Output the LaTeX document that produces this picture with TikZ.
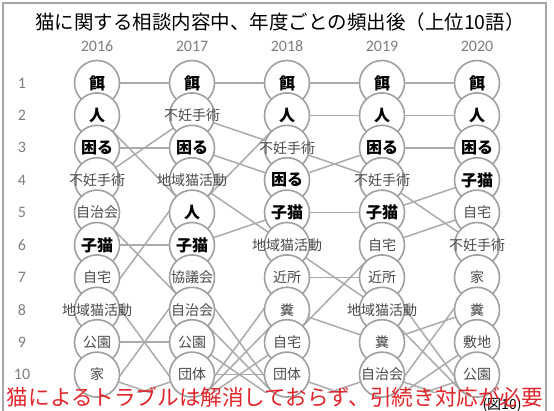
\documentclass[tikz,border=0pt]{standalone}
\usepackage{fontspec}
\setmainfont{Carlito}
\newfontfamily\jp{Noto Sans CJK JP}
\usetikzlibrary{backgrounds}
\definecolor{bubgray}{HTML}{A0A0A0}
\definecolor{linkgray}{HTML}{ABABAB}
\definecolor{framegray}{HTML}{A6A6A6}
\definecolor{numgray}{HTML}{7F7F7F}
\definecolor{txtgray}{HTML}{4A4A4A}
\definecolor{redc}{HTML}{E0262B}
\newcommand\mybub[5]{\node[bub] (#1) at (#2,{83+(#3-1)*32.4}) {};
  \node[#4] (#1t) at (#1.center) {#5};}
\begin{document}
\begin{tikzpicture}[x=1pt,y=-1pt,
  bub/.style={circle,draw=bubgray,line width=1.6pt,fill=white,minimum size=45pt,inner sep=0pt},
  bw/.style={font=\jp\bfseries\fontsize{16}{16}\selectfont,text=black,inner sep=0pt},
  rw/.style={font=\jp\fontsize{14}{14}\selectfont,text=txtgray,inner sep=0pt},
  link/.style={draw=linkgray,line width=1.5pt},
  yearlbl/.style={font=\fontsize{16}{16}\selectfont,text=numgray},
  ranklbl/.style={font=\fontsize{16}{16}\selectfont,text=numgray}]
\useasboundingbox (0,0) rectangle (554,411);
% title
\node[font=\jp\fontsize{19.5}{19.5}\selectfont] (title) at (280,22) {猫に関する相談内容中、年度ごとの頻出後（上位10語）};
% years
\node[yearlbl] (y16) at (97,46) {2016};
\node[yearlbl] (y17) at (192,46) {2017};
\node[yearlbl] (y18) at (287,46) {2018};
\node[yearlbl] (y19) at (382,46) {2019};
\node[yearlbl] (y20) at (477,46) {2020};
% rank numbers
\foreach \r in {1,...,10} {\node[ranklbl] (r\r) at (22,{83+(\r-1)*32.4}) {\r};}
% 2016
\mybub{a1}{97}{1}{bw}{餌}
\mybub{a2}{97}{2}{bw}{人}
\mybub{a3}{97}{3}{bw}{困る}
\mybub{a4}{97}{4}{rw}{不妊手術}
\mybub{a5}{97}{5}{rw}{自治会}
\mybub{a6}{97}{6}{bw}{子猫}
\mybub{a7}{97}{7}{rw}{自宅}
\mybub{a8}{97}{8}{rw}{地域猫活動}
\mybub{a9}{97}{9}{rw}{公園}
\mybub{a10}{97}{10}{rw}{家}
% 2017
\mybub{b1}{192}{1}{bw}{餌}
\mybub{b2}{192}{2}{rw}{不妊手術}
\mybub{b3}{192}{3}{bw}{困る}
\mybub{b4}{192}{4}{rw}{地域猫活動}
\mybub{b5}{192}{5}{bw}{人}
\mybub{b6}{192}{6}{bw}{子猫}
\mybub{b7}{192}{7}{rw}{協議会}
\mybub{b8}{192}{8}{rw}{自治会}
\mybub{b9}{192}{9}{rw}{公園}
\mybub{b10}{192}{10}{rw}{団体}
% 2018
\mybub{c1}{287}{1}{bw}{餌}
\mybub{c2}{287}{2}{bw}{人}
\mybub{c3}{287}{3}{rw}{不妊手術}
\mybub{c4}{287}{4}{bw}{困る}
\mybub{c5}{287}{5}{bw}{子猫}
\mybub{c6}{287}{6}{rw}{地域猫活動}
\mybub{c7}{287}{7}{rw}{近所}
\mybub{c8}{287}{8}{rw}{糞}
\mybub{c9}{287}{9}{rw}{自宅}
\mybub{c10}{287}{10}{rw}{団体}
% 2019
\mybub{d1}{382}{1}{bw}{餌}
\mybub{d2}{382}{2}{bw}{人}
\mybub{d3}{382}{3}{bw}{困る}
\mybub{d4}{382}{4}{rw}{不妊手術}
\mybub{d5}{382}{5}{bw}{子猫}
\mybub{d6}{382}{6}{rw}{自宅}
\mybub{d7}{382}{7}{rw}{近所}
\mybub{d8}{382}{8}{rw}{地域猫活動}
\mybub{d9}{382}{9}{rw}{糞}
\mybub{d10}{382}{10}{rw}{自治会}
% 2020
\mybub{e1}{477}{1}{bw}{餌}
\mybub{e2}{477}{2}{bw}{人}
\mybub{e3}{477}{3}{bw}{困る}
\mybub{e4}{477}{4}{bw}{子猫}
\mybub{e5}{477}{5}{rw}{自宅}
\mybub{e6}{477}{6}{rw}{不妊手術}
\mybub{e7}{477}{7}{rw}{家}
\mybub{e8}{477}{8}{rw}{糞}
\mybub{e9}{477}{9}{rw}{敷地}
\mybub{e10}{477}{10}{rw}{公園}
% out-of-top-10 positions
\coordinate (a11) at (97,407);
\coordinate (b11) at (192,407);
\coordinate (c11) at (287,407);
\coordinate (d11) at (382,407);
\coordinate (e11) at (477,407);
% caption
\node[font=\jp\fontsize{14}{14}\selectfont] (fig) at (502,405) {(図10)};
\node[font=\jp\fontsize{21.6}{22}\selectfont,text=redc] (note) at (275,397) {猫によるトラブルは解消しておらず、引続き対応が必要};
\begin{scope}[on background layer]
\fill[white] (0,0) rectangle (554,411);
\draw[framegray,line width=2.5pt] (3,3) rectangle (546,418);
\begin{scope}
\clip (0,0) rectangle (554,392);
\foreach \p/\q in {a1/b1,a2/b5,a3/b3,a4/b2,a5/b8,a6/b6,a7/b11,a8/b4,a9/b9,a10/b11,a11/b7,a11/b10,
  b1/c1,b2/c3,b3/c4,b4/c6,b5/c2,b6/c5,b7/c11,b8/c11,b9/c11,b10/c10,b11/c7,b11/c8,b11/c9,
  c1/d1,c2/d2,c3/d4,c4/d3,c5/d5,c6/d8,c7/d7,c8/d9,c9/d6,c10/d11,c11/d10,
  d1/e1,d2/e2,d3/e3,d4/e6,d5/e4,d6/e5,d7/e11,d8/e11,d9/e8,d10/e11,d11/e7,d11/e9,d11/e10}
  {\draw[link] (\p.center) -- (\q.center);}
\end{scope}
\end{scope}
\end{tikzpicture}
\end{document}
